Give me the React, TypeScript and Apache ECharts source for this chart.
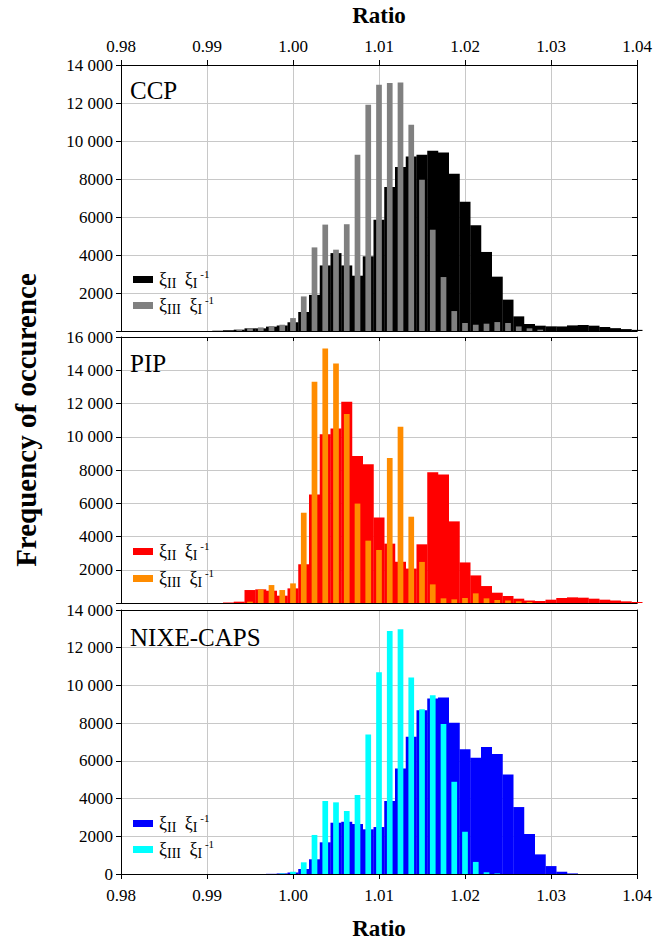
import React, { useEffect, useRef } from 'react';
import * as echarts from 'echarts';

const binCenters = [
  0.98, 0.98125, 0.9825, 0.98375, 0.985, 0.98625, 0.9875, 0.98875,
  0.99, 0.99125, 0.9925, 0.99375, 0.995, 0.99625, 0.9975, 0.99875,
  1.0, 1.00125, 1.0025, 1.00375, 1.005, 1.00625, 1.0075, 1.00875,
  1.01, 1.01125, 1.0125, 1.01375, 1.015, 1.01625, 1.0175, 1.01875,
  1.02, 1.02125, 1.0225, 1.02375, 1.025, 1.02625, 1.0275, 1.02875,
  1.03, 1.03125, 1.0325, 1.03375, 1.035, 1.03625, 1.0375, 1.03875, 1.04,
];

const ccpII = [
  0, 0, 0, 0, 0, 0, 0, 0, 0, 15, 40, 70, 140, 140, 230, 290,
  460, 1000, 1900, 3450, 4100, 3450, 2910, 3930, 5860, 7580, 8630, 9190, 9280, 9490, 9400, 8280,
  6800, 5560, 4160, 2860, 1650, 770, 370, 280, 245, 240, 295, 315, 280, 210, 150, 100, 60,
];
const ccpIII = [
  0, 0, 0, 0, 0, 0, 0, 0, 0, 0, 0, 50, 140, 190, 260, 330,
  680, 1820, 4400, 5600, 4280, 5620, 9280, 11910, 12960, 13050, 13080, 10860, 7960, 5330, 2840, 1050,
  420, 330, 385, 470, 420, 240, 140, 70, 0, 0, 0, 0, 0, 0, 0, 0, 0,
];
const pipII = [
  0, 0, 0, 0, 0, 0, 0, 0, 0, 0, 30, 80, 780, 820, 740, 440,
  880, 2330, 6520, 10150, 10490, 12110, 8840, 8340, 5150, 3570, 2480, 2070, 3530, 7860, 7730, 4910,
  2440, 1660, 1020, 620, 420, 260, 150, 120, 200, 300, 340, 320, 260, 200, 150, 100, 60,
];
const pipIII = [
  0, 0, 0, 0, 0, 0, 0, 0, 0, 0, 0, 0, 80, 820, 1080, 780,
  1180, 5430, 13310, 15310, 14400, 11370, 5980, 3750, 3190, 8720, 10600, 5190, 2470, 1120, 280, 220,
  300, 580, 280, 180, 150, 100, 60, 0, 0, 0, 0, 0, 0, 0, 0, 0, 0,
];
const nixeII = [
  0, 0, 0, 0, 0, 0, 0, 0, 0, 0, 0, 0, 0, 0, 10, 30,
  80, 265, 780, 1680, 2720, 2770, 2650, 2370, 2490, 3870, 5600, 7280, 8690, 9310, 9360, 8020,
  6620, 6160, 6740, 6360, 5280, 3550, 2120, 1040, 420, 120, 30, 0, 0, 0, 0, 0, 0,
];
const nixeIII = [
  0, 0, 0, 0, 0, 0, 0, 0, 0, 0, 0, 0, 0, 0, 0, 30,
  120, 620, 2070, 3870, 3800, 3340, 4190, 7400, 10700, 12890, 12980, 10420, 8740, 9480, 7950, 4890,
  2240, 640, 90, 30, 0, 0, 0, 0, 0, 0, 0, 0, 0, 0, 0, 0, 0,
];

const panelNames = ['CCP', 'PIP', 'NIXE-CAPS'];
const yMaxes = [14000, 16000, 14000];
const xMin = 0.98;
const xMax = 1.04;
const xStep = 0.01;
const yStep = 2000;

const FONT = 'Liberation Serif';

function fmtY(v: number, showZero: boolean): string {
  if (v === 0) return showZero ? '0' : '';
  if (v >= 10000) {
    const th = Math.floor(v / 1000);
    const rest = String(v % 1000).padStart(3, '0');
    return th + ' ' + rest;
  }
  return String(v);
}

export default function App() {
  const ref = useRef<HTMLDivElement>(null);
  useEffect(() => {
    const chart = echarts.init(ref.current!, null, { renderer: 'svg' });

    const panels = [
      { top: 65, height: 266, wide: ccpII, narrow: ccpIII, wc: '#000000', nc: '#808080', title: 90, leg: [279, 305] },
      { top: 337, height: 266, wide: pipII, narrow: pipIII, wc: '#ff0000', nc: '#ff8c00', title: 363, leg: [551, 578] },
      { top: 610, height: 264, wide: nixeII, narrow: nixeIII, wc: '#0000ff', nc: '#00ffff', title: 637, leg: [823, 849] },
    ];

    const grids: any[] = [];
    const xAxes: any[] = [];
    const yAxes: any[] = [];
    const series: any[] = [];
    const graphics: any[] = [];

    panels.forEach((p, k) => {
      grids.push({ left: 121, top: p.top, width: 516, height: p.height, containLabel: false });
      xAxes.push({
        type: 'value', gridIndex: k, min: xMin, max: xMax, interval: xStep,
        position: k === 0 ? 'top' : 'bottom',
        axisLine: { show: true, onZero: false, lineStyle: { color: '#000', width: 1 } },
        axisTick: { show: k !== 1, inside: false, length: 5, lineStyle: { color: '#000' } },
        axisLabel: {
          show: k !== 1, formatter: (v: number) => v.toFixed(2),
          fontFamily: FONT, fontSize: 17, color: '#000', margin: k === 0 ? 10 : 13,
        },
        splitLine: { show: true, showMinLine: false, showMaxLine: false, lineStyle: { color: '#c8c8c8', width: 1 } },
      });
      xAxes.push({
        type: 'value', gridIndex: k, min: xMin, max: xMax, interval: xStep,
        position: k === 0 ? 'bottom' : 'top',
        axisLine: { show: true, onZero: false, lineStyle: { color: '#000', width: 1 } },
        axisTick: { show: k === 1, inside: true, length: 4, lineStyle: { color: '#000' } },
        axisLabel: { show: false },
        splitLine: { show: false },
      });
      yAxes.push({
        type: 'value', gridIndex: k, min: 0, max: yMaxes[k], interval: yStep, position: 'left',
        axisLine: { show: true, lineStyle: { color: '#000', width: 1 } },
        axisTick: { show: true, length: 5, lineStyle: { color: '#000' } },
        axisLabel: {
          formatter: (v: number) => fmtY(v, k === 2),
          fontFamily: FONT, fontSize: 17, color: '#000', margin: 8,
        },
        splitLine: { show: true, showMinLine: false, showMaxLine: false, lineStyle: { color: '#c8c8c8', width: 1 } },
      });
      yAxes.push({
        type: 'value', gridIndex: k, min: 0, max: yMaxes[k], interval: yStep, position: 'right',
        axisLine: { show: true, lineStyle: { color: '#000', width: 1 } },
        axisTick: { show: true, inside: true, length: 5, lineStyle: { color: '#000' } },
        axisLabel: { show: false },
        splitLine: { show: false },
      });
      series.push({
        type: 'bar', xAxisIndex: 2 * k, yAxisIndex: 2 * k,
        data: binCenters.map((c, i) => [c, p.wide[i]]),
        barWidth: 11, itemStyle: { color: p.wc }, z: 2, silent: true,
      });
      series.push({
        type: 'bar', xAxisIndex: 2 * k + 1, yAxisIndex: 2 * k,
        data: binCenters.map((c, i) => [c, p.narrow[i]]),
        barWidth: 5.7, itemStyle: { color: p.nc }, z: 3, silent: true,
      });

      graphics.push({
        type: 'text', x: 130, y: p.title, z: 10,
        style: { text: panelNames[k], fontFamily: FONT, fontSize: 25, fill: '#000', align: 'left', verticalAlign: 'middle' },
      });
      const legTexts = ['{g|ξ}{s|II}  {g|ξ}{s|I}{p| -1}', '{g|ξ}{s|III}  {g|ξ}{s|I}{p| -1}'];
      const legColors = [p.wc, p.nc];
      p.leg.forEach((yy, j) => {
        graphics.push({
          type: 'rect', z: 10,
          shape: { x: 133, y: yy - 3, width: 20, height: 7 },
          style: { fill: legColors[j] },
        });
        graphics.push({
          type: 'text', x: 159, y: yy, z: 10,
          style: {
            text: legTexts[j], fontFamily: FONT, fontSize: 17, fill: '#000',
            align: 'left', verticalAlign: 'middle',
            rich: {
              g: { fontFamily: FONT, fontSize: 18, lineHeight: 22, verticalAlign: 'middle', fill: '#000' },
              s: { fontFamily: FONT, fontSize: 14, lineHeight: 14, verticalAlign: 'bottom', fill: '#000' },
              p: { fontFamily: FONT, fontSize: 11, lineHeight: 11, verticalAlign: 'top', fill: '#000' },
            },
          },
        });
      });
    });

    graphics.push({
      type: 'text', x: 379, y: 15, z: 10,
      style: { text: 'Ratio', fontFamily: FONT, fontSize: 23, fontWeight: 'bold', fill: '#000', align: 'center', verticalAlign: 'middle' },
    });
    graphics.push({
      type: 'text', x: 379, y: 928, z: 10,
      style: { text: 'Ratio', fontFamily: FONT, fontSize: 23, fontWeight: 'bold', fill: '#000', align: 'center', verticalAlign: 'middle' },
    });
    graphics.push({
      type: 'text', x: 26, y: 420, rotation: Math.PI / 2, z: 10,
      style: { text: 'Frequency of occurence', fontFamily: FONT, fontSize: 29, fontWeight: 'bold', fill: '#000', align: 'center', verticalAlign: 'middle' },
    });

    chart.setOption({
      animation: false,
      backgroundColor: '#ffffff',
      textStyle: { fontFamily: FONT },
      grid: grids,
      xAxis: xAxes,
      yAxis: yAxes,
      series,
      graphic: graphics,
    });
    return () => chart.dispose();
  }, []);
  return <div ref={ref} style={{ position: 'fixed', left: 0, top: 0, width: 670, height: 943 }} />;
}
